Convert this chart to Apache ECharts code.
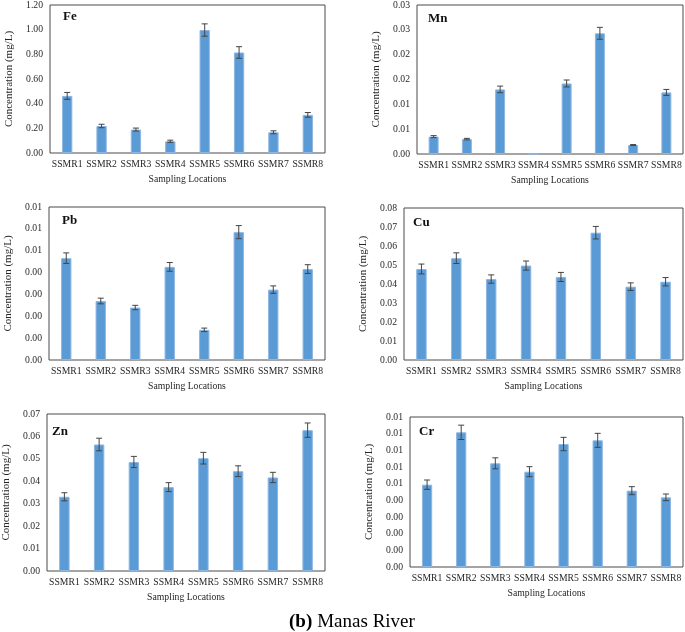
<!DOCTYPE html>
<html>
<head>
<meta charset="utf-8">
<script src="https://cdn.jsdelivr.net/npm/echarts@6/dist/echarts.min.js"></script>
<style>
  html, body { margin: 0; background: #fff; }
  #main { width: 685px; height: 632px; }
</style>
</head>
<body>
<div id="main"></div>
<script>
// sampling sites, same for every panel
var categories = ['SSMR1', 'SSMR2', 'SSMR3', 'SSMR4', 'SSMR5', 'SSMR6', 'SSMR7', 'SSMR8'];

// values (mg/L), errors are +/- half the whisker
var feValues = [0.463, 0.219, 0.19, 0.095, 0.997, 0.815, 0.168, 0.309];
var feErrors = [0.028, 0.014, 0.012, 0.009, 0.05, 0.047, 0.012, 0.019];
var feTicks = ['0.00', '0.20', '0.40', '0.60', '0.80', '1.00', '1.20'];

var mnValues = [0.0035, 0.0030, 0.0130, 0, 0.0142, 0.0243, 0.0018, 0.0124];
var mnErrors = [0.0002, 0.00015, 0.00067, 0, 0.0007, 0.0012, 0.0001, 0.0006];
var mnTicks = ['0.00', '0.01', '0.01', '0.02', '0.02', '0.03', '0.03'];

var pbValues = [0.00466, 0.0027, 0.0024, 0.00426, 0.00138, 0.00585, 0.00322, 0.00416];
var pbErrors = [0.00024, 0.00013, 0.0001, 0.0002, 0.00008, 0.0003, 0.00017, 0.0002];
var pbTicks = ['0.00', '0.00', '0.00', '0.00', '0.00', '0.01', '0.01', '0.01'];

var cuValues = [0.0479, 0.0536, 0.0426, 0.0497, 0.0437, 0.067, 0.0386, 0.0412];
var cuErrors = [0.0026, 0.0028, 0.0022, 0.0024, 0.0024, 0.0033, 0.002, 0.0022];
var cuTicks = ['0.00', '0.01', '0.02', '0.03', '0.04', '0.05', '0.06', '0.07', '0.08'];

var znValues = [0.0331, 0.0564, 0.0486, 0.0374, 0.0503, 0.0445, 0.0417, 0.0628];
var znErrors = [0.0018, 0.0028, 0.0025, 0.002, 0.0026, 0.0024, 0.0023, 0.0032];
var znTicks = ['0.00', '0.01', '0.02', '0.03', '0.04', '0.05', '0.06', '0.07'];

var crValues = [0.00494, 0.00808, 0.00622, 0.00572, 0.00738, 0.0076, 0.00458, 0.00418];
var crErrors = [0.00028, 0.00043, 0.00033, 0.0003, 0.0004, 0.00042, 0.00024, 0.0002];
var crTicks = ['0.00', '0.00', '0.00', '0.00', '0.00', '0.01', '0.01', '0.01', '0.01', '0.01'];

var panels = [
  { name: 'Fe', values: feValues, errors: feErrors, ticks: feTicks, interval: 0.2,
    box: [50, 5, 325, 153], label: [63, 10] },
  { name: 'Mn', values: mnValues, errors: mnErrors, ticks: mnTicks, interval: 0.005,
    box: [417, 4, 683, 154], label: [428, 12] },
  { name: 'Pb', values: pbValues, errors: pbErrors, ticks: pbTicks, interval: 0.001,
    box: [49, 207, 325, 360], label: [62, 214] },
  { name: 'Cu', values: cuValues, errors: cuErrors, ticks: cuTicks, interval: 0.01,
    box: [404, 208, 683, 360], label: [413, 216] },
  { name: 'Zn', values: znValues, errors: znErrors, ticks: znTicks, interval: 0.01,
    box: [45, 414, 325, 571], label: [52, 425] },
  { name: 'Cr', values: crValues, errors: crErrors, ticks: crTicks, interval: 0.001,
    box: [410, 417, 683, 567], label: [419, 425] }
];

var serif = '"Liberation Serif", "Times New Roman", serif';
var textColor = '#262626';

var option = {
  animation: false,
  backgroundColor: '#fff',
  title: [],
  grid: [],
  xAxis: [],
  yAxis: [],
  series: []
};

panels.forEach(function (p, i) {
  option.title.push({
    text: p.name,
    left: p.label[0],
    top: p.label[1],
    padding: 0,
    textStyle: { fontFamily: serif, fontWeight: 'bold', fontSize: 13, color: '#111' }
  });

  option.grid.push({
    left: p.box[0],
    top: p.box[1],
    width: p.box[2] - p.box[0],
    height: p.box[3] - p.box[1],
    show: true,
    borderColor: '#4a4a4a',
    borderWidth: 1,
    backgroundColor: 'transparent'
  });

  option.xAxis.push({
    type: 'category',
    gridIndex: i,
    data: categories,
    axisLine: { show: false },
    axisTick: { show: false },
    axisLabel: { fontFamily: serif, fontSize: 9.7, color: textColor, margin: 6, interval: 0 },
    name: 'Sampling Locations',
    nameLocation: 'middle',
    nameGap: 21,
    nameTextStyle: { fontFamily: serif, fontSize: 9.7, color: textColor }
  });

  var ticks = p.ticks;
  option.yAxis.push({
    type: 'value',
    gridIndex: i,
    min: 0,
    max: p.interval * (ticks.length - 1),
    interval: p.interval,
    axisLine: { show: false },
    axisTick: { show: false },
    splitLine: { show: false },
    axisLabel: {
      fontFamily: serif, fontSize: 9.7, color: textColor, margin: 7,
      formatter: function (v, idx) { return ticks[idx]; }
    },
    name: 'Concentration (mg/L)',
    nameLocation: 'middle',
    nameGap: 35,
    nameTextStyle: { fontFamily: serif, fontSize: 11, color: textColor }
  });

  option.series.push({
    type: 'bar',
    xAxisIndex: i,
    yAxisIndex: i,
    data: p.values,
    barWidth: '30%',
    itemStyle: { color: '#5b9bd5', borderColor: '#8db6e2', borderWidth: 1 }
  });

  // error bars: [category index, low, high]
  var errData = p.values.map(function (v, k) {
    return [k, v - p.errors[k], v + p.errors[k]];
  });
  option.series.push({
    type: 'custom',
    xAxisIndex: i,
    yAxisIndex: i,
    data: errData,
    z: 5,
    renderItem: function (params, api) {
      if (api.value(1) === api.value(2)) return null; // no whisker for a zero bar
      var lo = api.coord([api.value(0), api.value(1)]);
      var hi = api.coord([api.value(0), api.value(2)]);
      var w = 3;
      var st = { stroke: '#444', lineWidth: 1 };
      return {
        type: 'group',
        children: [
          { type: 'line', shape: { x1: lo[0], y1: lo[1], x2: hi[0], y2: hi[1] }, style: st },
          { type: 'line', shape: { x1: hi[0] - w, y1: hi[1], x2: hi[0] + w, y2: hi[1] }, style: st },
          { type: 'line', shape: { x1: lo[0] - w, y1: lo[1], x2: lo[0] + w, y2: lo[1] }, style: st }
        ]
      };
    }
  });
});

// caption under the six panels
option.title.push({
  text: '{b|(b)} {n|Manas River}',
  left: 289,
  top: 613,
  padding: 0,
  textStyle: {
    fontWeight: 'normal',
    rich: {
      b: { fontFamily: serif, fontWeight: 'bold', fontSize: 19, color: '#000' },
      n: { fontFamily: serif, fontWeight: 'normal', fontSize: 19, color: '#000' }
    }
  }
});

var myChart = echarts.init(document.getElementById('main'));
myChart.setOption(option);
</script>
</body>
</html>
